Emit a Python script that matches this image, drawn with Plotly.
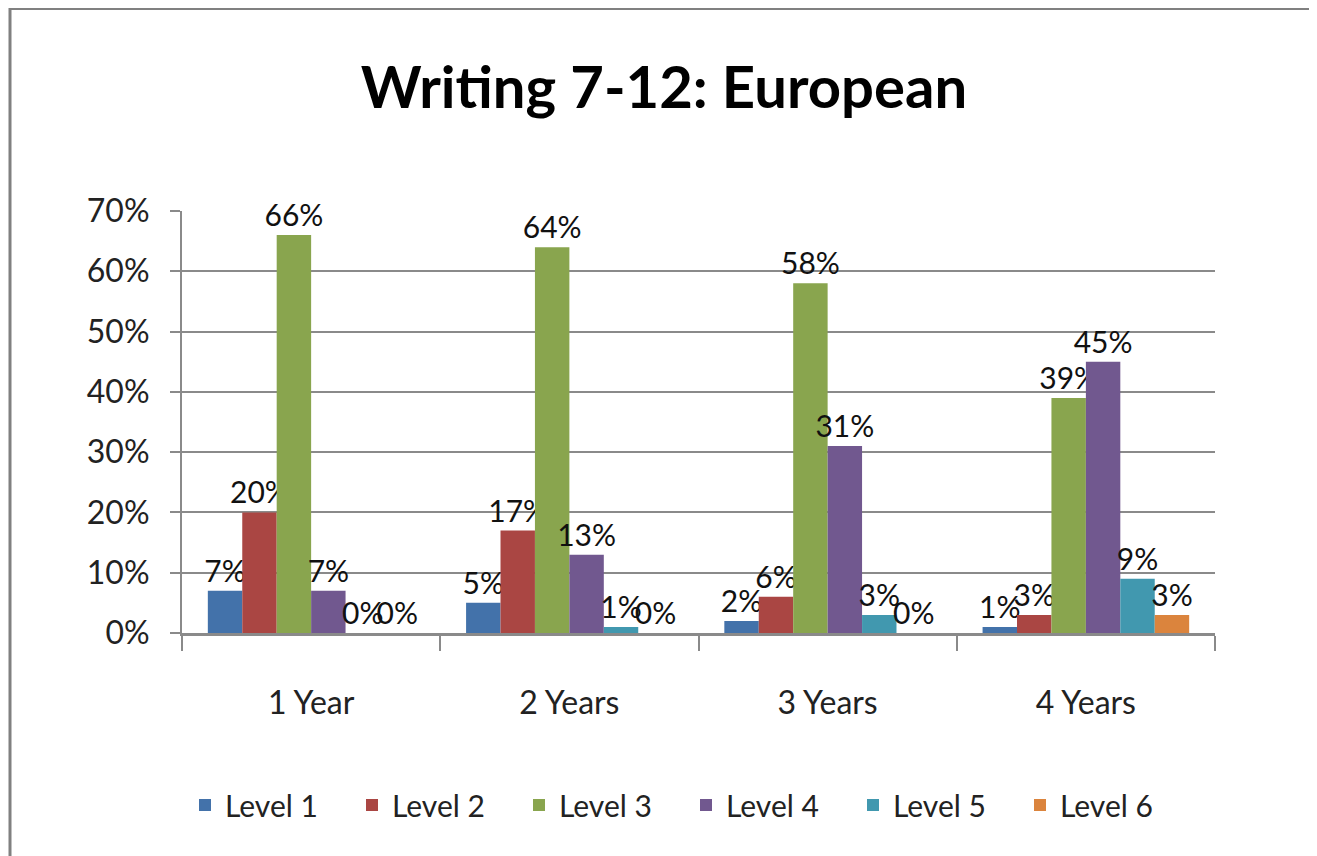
import plotly.graph_objects as go

categories = ["1 Year", "2 Years", "3 Years", "4 Years"]
series_names = ["Level 1", "Level 2", "Level 3", "Level 4", "Level 5", "Level 6"]
level1 = [0.07, 0.05, 0.02, 0.01]
level2 = [0.20, 0.17, 0.06, 0.03]
level3 = [0.66, 0.64, 0.58, 0.39]
level4 = [0.07, 0.13, 0.31, 0.45]
level5 = [0.00, 0.01, 0.03, 0.09]
level6 = [0.00, 0.00, 0.00, 0.03]
y_ticks = [0, 0.1, 0.2, 0.3, 0.4, 0.5, 0.6, 0.7]
y_tick_labels = ["0%", "10%", "20%", "30%", "40%", "50%", "60%", "70%"]

colors = ["#4372AA", "#AA4643", "#89A54E", "#71588F", "#4198AF", "#DB843D"]
all_series = [level1, level2, level3, level4, level5, level6]

FONT = "Lato, sans-serif"

fig = go.Figure()
for name, vals, col in zip(series_names, all_series, colors):
    fig.add_trace(go.Bar(
        x=categories, y=vals, name=name,
        marker=dict(color=col, line=dict(width=0)),
        text=[f"{round(v*100)}%" for v in vals],
        textposition="outside",
        constraintext="none",
        textfont=dict(size=30, color="#111", family=FONT),
        cliponaxis=False,
    ))

# page body has an 8px offset; target pixel positions are reduced by 8
W, H = 1309, 848
ml = 182 - 8
mt = 211 - 8
plot_right = 1215 - 8
plot_bottom = 633 - 8
mr = W - plot_right
mb = H - plot_bottom
pw = W - ml - mr
ph = H - mt - mb

fig.update_layout(
    width=W, height=H,
    margin=dict(l=ml, r=mr, t=mt, b=mb),
    paper_bgcolor="white", plot_bgcolor="white",
    barmode="group", bargap=0.2, bargroupgap=0.0,
    title=dict(text="<b>Writing 7-12: European</b>", x=(664 - 8 - ml) / pw, xref="paper",
               xanchor="center", y=1 - (88 - 8) / H, yanchor="middle",
               font=dict(size=58, family=FONT, color="black")),
    font=dict(family=FONT, color="#222"),
    legend=dict(orientation="h", x=(185 - 8 - ml) / pw, xanchor="left",
                y=-(805 - 633) / ph, yanchor="middle",
                font=dict(size=30, family=FONT, color="#222"),
                entrywidth=122, entrywidthmode="pixels", traceorder="normal"),
)
fig.update_yaxes(range=[0, 0.7], tickvals=y_ticks, ticktext=y_tick_labels,
                 showgrid=True, gridcolor="#8a8a8a", gridwidth=2,
                 ticks="outside", ticklen=10, tickcolor="#8a8a8a", tickwidth=2,
                 showline=True, linecolor="#8a8a8a", linewidth=2,
                 ticklabelstandoff=14,
                 tickfont=dict(size=32, family=FONT, color="#222"), zeroline=False)
fig.update_xaxes(showline=True, linecolor="#8a8a8a", linewidth=3,
                 ticks="outside", ticklen=15, tickcolor="#8a8a8a", tickwidth=2,
                 tickson="boundaries", ticklabelstandoff=40,
                 tickfont=dict(size=32, family=FONT, color="#222"))

# outer frame (top and left edges)
x_left = (10 - 8 - ml) / pw
fig.add_shape(type="line", xref="paper", yref="paper", x0=x_left, x1=(W - ml) / pw,
              y0=1 + mt / ph, y1=1 + mt / ph,
              line=dict(color="#808080", width=4))
fig.add_shape(type="line", xref="paper", yref="paper", x0=x_left, x1=x_left,
              y0=1 + mt / ph, y1=-mb / ph, line=dict(color="#808080", width=3))

fig.write_html("out.html")
